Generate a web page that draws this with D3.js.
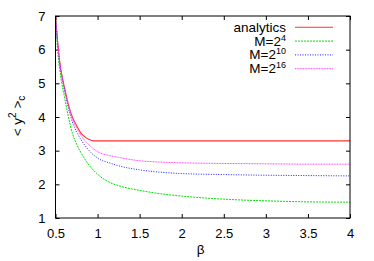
<!DOCTYPE html>
<html>
<head>
<meta charset="utf-8">
<script src="https://cdn.jsdelivr.net/npm/d3@7"></script>
<style>
  body { margin: 0; background: #fff; }
  text { font-family: "Liberation Sans", Arial, sans-serif; }
</style>
</head>
<body>
<svg id="chart" width="374" height="261"></svg>
<script>
// beta grid and curves
const betaA = [0.5, 0.525, 0.55, 0.575, 0.6, 0.65, 0.7, 0.75, 0.8, 0.85, 0.9, 0.95, 1.0, 4.0];
const analytics = [7, 6.25, 5.65, 5.25, 4.95, 4.4, 4.0, 3.75, 3.53, 3.41, 3.33, 3.29, 3.29, 3.29];

const beta = [0.5, 0.525, 0.55, 0.575, 0.6, 0.65, 0.7, 0.75, 0.8, 0.9, 1.0, 1.15, 1.25, 1.5, 1.75, 2, 2.5, 3, 3.5, 4];
const m4  = [7, 6.0, 5.42, 5.0, 4.68, 4.05, 3.52, 3.2, 2.95, 2.57, 2.3, 2.05, 1.96, 1.82, 1.72, 1.65, 1.56, 1.51, 1.48, 1.47];
const m10 = [7, 6.2, 5.6, 5.2, 4.88, 4.3, 3.85, 3.56, 3.34, 3.0, 2.78, 2.63, 2.55, 2.43, 2.36, 2.32, 2.29, 2.27, 2.26, 2.25];
const m16 = [7, 6.22, 5.62, 5.23, 4.92, 4.37, 3.95, 3.67, 3.46, 3.17, 2.97, 2.85, 2.8, 2.7, 2.66, 2.64, 2.62, 2.61, 2.6, 2.6];

const xTicks = [0.5, 1, 1.5, 2, 2.5, 3, 3.5, 4];
const yTicks = [1, 2, 3, 4, 5, 6, 7];

const svg = d3.select("#chart");
const pL = 55.5, pR = 350, pT = 16, pB = 218;

const x = d3.scaleLinear().domain([0.5, 4]).range([pL, pR]);
const y = d3.scaleLinear().domain([1, 7]).range([pB, pT]);

svg.append("clipPath").attr("id", "clip")
  .append("rect").attr("x", pL).attr("y", pT).attr("width", pR - pL).attr("height", pB - pT);

// axes with inward ticks, mirrored on top/right
const tl = 4;
svg.append("g").attr("transform", `translate(0,${pB})`)
  .call(d3.axisBottom(x).tickValues(xTicks).tickSize(-tl).tickPadding(11).tickFormat(d3.format("")))
  .call(g => g.select(".domain").remove());
svg.append("g").attr("transform", `translate(0,${pT})`)
  .call(d3.axisTop(x).tickValues(xTicks).tickSize(-tl).tickFormat(""))
  .call(g => g.select(".domain").remove());
svg.append("g").attr("transform", `translate(${pL},0)`)
  .call(d3.axisLeft(y).tickValues(yTicks).tickSize(-tl).tickPadding(10).tickFormat(d3.format("d")))
  .call(g => g.select(".domain").remove());
svg.append("g").attr("transform", `translate(${pR},0)`)
  .call(d3.axisRight(y).tickValues(yTicks).tickSize(-tl).tickFormat(""))
  .call(g => g.select(".domain").remove());

svg.selectAll(".tick text").attr("font-size", 13).attr("fill", "#000")
  .attr("font-family", "'Liberation Sans', Arial, sans-serif");
svg.selectAll(".tick line").attr("stroke", "#000");

const series = [
  { name: "analytics", xs: betaA, ys: analytics, color: "#ff3030", dash: null, w: 1.1 },
  { name: "M=2", sup: "4", xs: beta, ys: m4, color: "#00e000", dash: "2,1", w: 1 },
  { name: "M=2", sup: "10", xs: beta, ys: m10, color: "#2020ff", dash: "1,1.5", w: 1 },
  { name: "M=2", sup: "16", xs: beta, ys: m16, color: "#ff40ff", dash: "1,0.6", w: 1 }
];

const line = d3.line().curve(d3.curveMonotoneX);
const lines = svg.append("g").attr("clip-path", "url(#clip)");
series.forEach(s => {
  lines.append("path")
    .attr("d", line(s.xs.map((b, i) => [x(b), y(s.ys[i])])))
    .attr("fill", "none")
    .attr("stroke", s.color)
    .attr("stroke-width", s.w)
    .attr("stroke-dasharray", s.dash);
});

// frame
svg.append("rect").attr("x", pL).attr("y", pT).attr("width", pR - pL).attr("height", pB - pT)
  .attr("fill", "none").attr("stroke", "#000").attr("stroke-width", 1);

// legend
const leg = svg.append("g");
series.forEach((s, i) => {
  const ly = 27.3 + i * 13.8;
  const t = leg.append("text").attr("x", 286).attr("y", ly + 4.5)
    .attr("text-anchor", "end").attr("font-size", 13.5);
  t.append("tspan").text(s.name);
  if (s.sup) t.append("tspan").attr("dy", -5).attr("font-size", 9).text(s.sup);
  leg.append("line").attr("x1", 295).attr("x2", 333).attr("y1", ly).attr("y2", ly)
    .attr("stroke", s.color).attr("stroke-width", s.w).attr("stroke-dasharray", s.dash);
});

// axis labels
svg.append("text").attr("x", (pL + pR) / 2 - 2).attr("y", 254).attr("text-anchor", "middle")
  .attr("font-size", 13.5).text("β");
const yl = svg.append("text").attr("transform", "translate(22,116) rotate(-90)")
  .attr("text-anchor", "middle").attr("font-size", 13.5);
yl.append("tspan").text("< y");
yl.append("tspan").attr("dy", -6).attr("font-size", 10).text("2");
yl.append("tspan").attr("dy", 6).text(" >");
yl.append("tspan").attr("dy", 3).attr("font-size", 10).text("c");
</script>
</body>
</html>
